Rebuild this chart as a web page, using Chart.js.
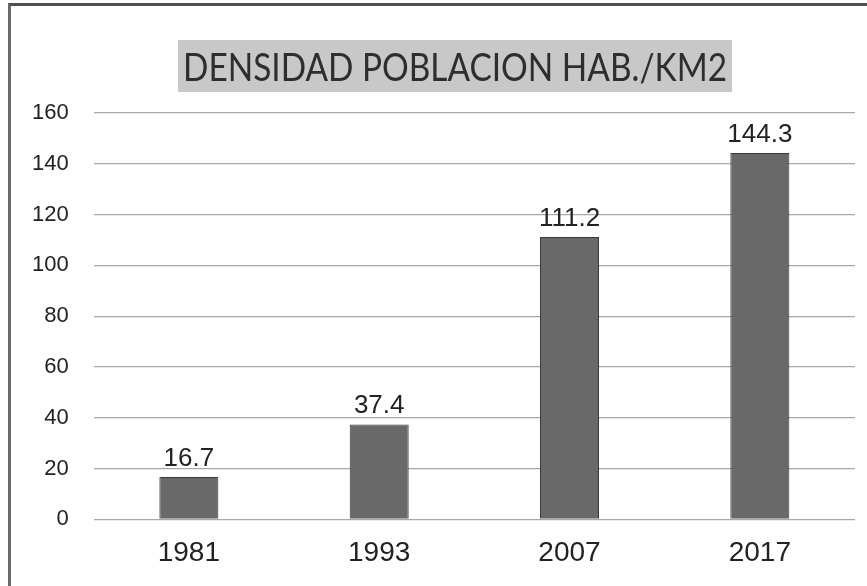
<!DOCTYPE html>
<html>
<head>
<meta charset="utf-8">
<script src="https://cdn.jsdelivr.net/npm/chart.js@4/dist/chart.umd.min.js"></script>
<style>
  html, body { margin: 0; background: #fff; }
  #frame {
    position: absolute; left: 8px; top: 3px; width: 859px; height: 583px;
    border-left: 3px solid #6a6a6a; border-top: 3px solid #505050; box-sizing: border-box;
  }
  #wrap { position: absolute; left: 0; top: 0; width: 867px; height: 586px; }
</style>
</head>
<body>
<div id="frame"></div>
<div id="wrap"><canvas id="densityChart"></canvas></div>
<script>
const years = ["1981", "1993", "2007", "2017"];
const density = [16.7, 37.4, 111.2, 144.3];
const yTicks = [0, 20, 40, 60, 80, 100, 120, 140, 160];
const chartTitle = "DENSIDAD POBLACION HAB./KM2";

// title sits on a grey box, as in the pasted spreadsheet chart
const titleBox = {
  id: "titleBox",
  beforeDraw(chart) {
    const ctx = chart.ctx;
    const left = 178, right = 732, top = 40, bottom = 92;
    ctx.save();
    ctx.fillStyle = "#c8c8c8";
    ctx.fillRect(left, top, right - left, bottom - top);
    ctx.font = "35px Lato";
    const w = ctx.measureText(chartTitle).width;
    const target = right - left - 10;
    ctx.translate((left + right) / 2, (top + bottom) / 2 + 2);
    ctx.scale(target / w, 1.12);
    ctx.fillStyle = "#2e2e2e";
    ctx.textAlign = "center";
    ctx.textBaseline = "middle";
    ctx.fillText(chartTitle, 0, 0);
    ctx.restore();
  }
};

const valueLabels = {
  id: "valueLabels",
  afterDatasetsDraw(chart) {
    const ctx = chart.ctx;
    const meta = chart.getDatasetMeta(0);
    ctx.save();
    ctx.font = "26px 'Liberation Sans', Arial, sans-serif";
    ctx.fillStyle = "#222";
    ctx.textAlign = "center";
    ctx.textBaseline = "alphabetic";
    meta.data.forEach((bar, i) => {
      ctx.fillText(density[i].toFixed(1), bar.x, bar.y - 11);
    });
    ctx.restore();
  }
};

new Chart(document.getElementById("densityChart").getContext("2d"), {
  type: "bar",
  data: {
    labels: years,
    datasets: [{
      data: density,
      backgroundColor: "#696969",
      borderColor: "#3a3a3a",
      borderWidth: 1,
      categoryPercentage: 1,
      barPercentage: 0.31
    }]
  },
  options: {
    responsive: true,
    maintainAspectRatio: false,
    animation: false,
    layout: { padding: { left: 7, right: 12, top: 113, bottom: 7 } },
    plugins: {
      legend: { display: false },
      tooltip: { enabled: false },
      title: { display: false }
    },
    scales: {
      x: {
        grid: { display: false },
        border: { display: false },
        ticks: {
          color: "#222",
          padding: 9,
          font: { family: "'Liberation Sans', Arial, sans-serif", size: 28 }
        }
      },
      y: {
        min: 0,
        max: 160,
        afterBuildTicks(scale) { scale.ticks = yTicks.map((v) => ({ value: v })); },
        grid: { color: "#a8a8a8", lineWidth: 1.2, drawTicks: false },
        border: { display: false },
        ticks: {
          color: "#222",
          padding: 25,
          font: { family: "'Liberation Sans', Arial, sans-serif", size: 22 }
        }
      }
    }
  },
  plugins: [titleBox, valueLabels]
});
</script>
</body>
</html>
